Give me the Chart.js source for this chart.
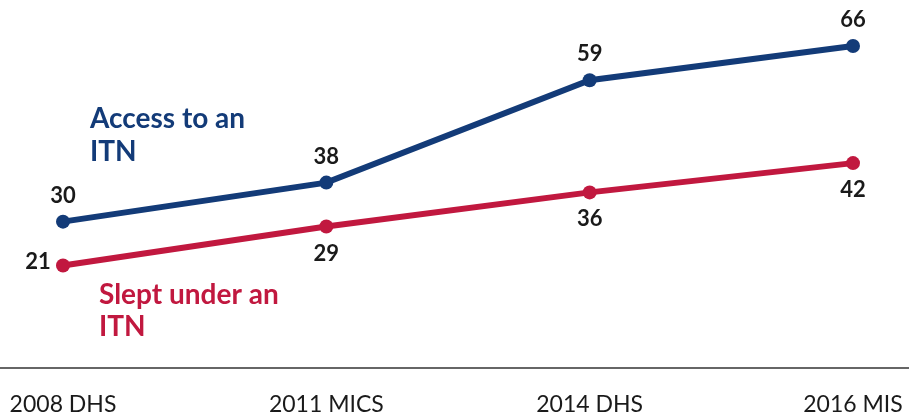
<!DOCTYPE html>
<html>
<head>
<meta charset="utf-8">
<script src="https://cdn.jsdelivr.net/npm/chart.js@4.4.1/dist/chart.umd.min.js"></script>
<style>
  html, body { margin: 0; padding: 0; background: #fff; }
  #wrap { width: 909px; height: 416px; }
</style>
</head>
<body>
<div id="wrap"><canvas id="itnChart" width="909" height="416"></canvas></div>
<script>
const surveys = ['2008 DHS', '2011 MICS', '2014 DHS', '2016 MIS'];
const accessValues = [30, 38, 59, 66];
const sleptValues = [21, 29, 36, 42];

const BLUE = '#133b78';
const RED = '#c1183f';

// value labels: blue above, red below (first red point sits to the left)
const valueLabels = {
    id: 'valueLabels',
    afterDatasetsDraw(chart) {
        const ctx = chart.ctx;
        ctx.save();
        ctx.font = 'bold 22px Lato';
        ctx.fillStyle = '#1a1a1a';
        ctx.textAlign = 'center';
        ctx.textBaseline = 'middle';
        chart.data.datasets.forEach((ds, di) => {
            chart.getDatasetMeta(di).data.forEach((pt, i) => {
                const v = ds.data[i];
                if (di === 0) {
                    ctx.fillText(v, pt.x, pt.y - 26);
                } else if (i === 0) {
                    ctx.fillText(v, pt.x - 25, pt.y - 4);
                } else {
                    ctx.fillText(v, pt.x, pt.y + 27);
                }
            });
        });
        ctx.restore();
    }
};

// series names and full-width baseline
const decorations = {
    id: 'decorations',
    beforeDatasetsDraw(chart) {
        const ctx = chart.ctx;
        const y0 = chart.scales.y.getPixelForValue(0);
        ctx.save();
        ctx.strokeStyle = '#333';
        ctx.lineWidth = 1.5;
        ctx.beginPath();
        ctx.moveTo(0, y0);
        ctx.lineTo(chart.width, y0);
        ctx.stroke();

        ctx.font = 'bold 28px Lato';
        ctx.textAlign = 'left';
        ctx.textBaseline = 'middle';
        ctx.fillStyle = BLUE;
        ctx.fillText('Access to an', 90, 119);
        ctx.fillText('ITN', 90, 152);
        ctx.fillStyle = RED;
        ctx.fillText('Slept under an', 99, 295);
        ctx.fillText('ITN', 99, 327);
        ctx.restore();
    }
};

new Chart(document.getElementById('itnChart'), {
    type: 'line',
    data: {
        labels: surveys,
        datasets: [
            {
                label: 'Access to an ITN',
                data: accessValues,
                borderColor: BLUE,
                backgroundColor: BLUE,
                borderWidth: 6,
                pointRadius: 7,
                pointBackgroundColor: BLUE,
                pointBorderWidth: 0,
                tension: 0
            },
            {
                label: 'Slept under an ITN',
                data: sleptValues,
                borderColor: RED,
                backgroundColor: RED,
                borderWidth: 6,
                pointRadius: 7,
                pointBackgroundColor: RED,
                pointBorderWidth: 0,
                tension: 0
            }
        ]
    },
    options: {
        responsive: false,
        animation: false,
        layout: { padding: 0 },
        plugins: {
            legend: { display: false },
            tooltip: { enabled: false }
        },
        scales: {
            x: {
                offset: false,
                afterFit(scale) {
                    scale.paddingLeft = 63;
                    scale.paddingRight = 56;
                    scale.height = 48;
                },
                grid: { display: false, drawTicks: false },
                border: { display: false },
                ticks: {
                    color: '#1a1a1a',
                    font: { family: 'Lato', size: 23 },
                    padding: 23,
                    maxRotation: 0,
                    autoSkip: false
                }
            },
            y: {
                display: false,
                min: 0,
                max: 74
            }
        }
    },
    plugins: [decorations, valueLabels]
});
</script>
</body>
</html>
